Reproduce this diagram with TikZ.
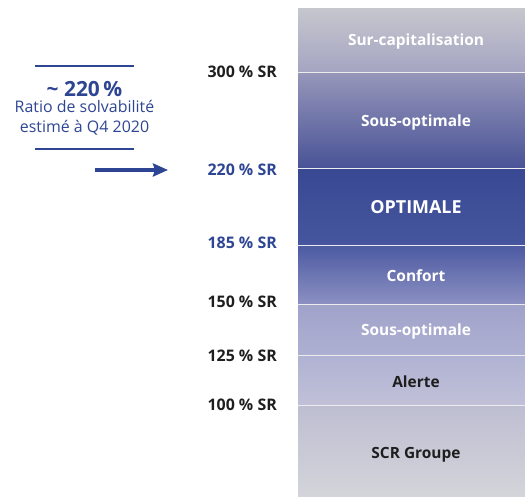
\documentclass[tikz,border=0pt]{standalone}
\usepackage{fontspec}
\setmainfont{Open Sans}
\usetikzlibrary{arrows.meta}
\begin{document}
\begin{tikzpicture}[x=1bp,y=-1bp,
  bandtxt/.style={font=\bfseries\fontsize{15.5}{18}\selectfont, text=white, inner sep=0pt},
  darktxt/.style={bandtxt, text=txtdark},
  lvl/.style={font=\bfseries\fontsize{16}{18}\selectfont, text=txtdark, anchor=east, inner sep=0pt},
  lvlblue/.style={lvl, text=navy},
  divider/.style={draw=white!85!gray, line width=1bp},
  rule/.style={draw=navy, line width=1.8bp}
]
\definecolor{navy}{HTML}{2E4593}
\definecolor{txtdark}{HTML}{1E1E1E}
\useasboundingbox (0,0) rectangle (525,497);
% bands
\shade[top color={rgb,255:red,198;green,198;blue,206}, bottom color={rgb,255:red,164;green,164;blue,194}] (298,9) rectangle (535,73);
\shade[top color={rgb,255:red,150;green,150;blue,186}, bottom color={rgb,255:red,72;green,82;blue,150}] (298,73) rectangle (535,169);
\shade[top color={rgb,255:red,56;green,72;blue,146}, middle color={rgb,255:red,34;green,60;blue,142}, bottom color={rgb,255:red,70;green,86;blue,158}] (298,169) rectangle (535,245);
\shade[top color={rgb,255:red,76;green,90;blue,162}, bottom color={rgb,255:red,140;green,144;blue,194}] (298,245) rectangle (535,304);
\shade[top color={rgb,255:red,160;green,162;blue,202}, bottom color={rgb,255:red,174;green,176;blue,210}] (298,304) rectangle (535,355);
\shade[top color={rgb,255:red,176;green,178;blue,210}, bottom color={rgb,255:red,192;green,192;blue,216}] (298,355) rectangle (535,405);
\shade[top color={rgb,255:red,190;green,190;blue,210}, bottom color={rgb,255:red,212;green,212;blue,218}] (298,405) rectangle (535,497);
% dividers
\foreach \yy in {73,169,245,304,355,405} \draw[divider] (298,\yy) -- (525,\yy);
% band labels
\node[bandtxt] (b1) at (416,41) {Sur-capitalisation};
\node[bandtxt] (b2) at (416,122) {Sous-optimale};
\node[bandtxt, font=\bfseries\fontsize{18}{20}\selectfont] (b3) at (416,207) {OPTIMALE};
\node[bandtxt] (b4) at (416,276) {Confort};
\node[bandtxt] (b5) at (416,331) {Sous-optimale};
\node[darktxt] (b6) at (416,382) {Alerte};
\node[darktxt] (b7) at (416,455) {SCR Groupe};
% level labels
\node[lvl] (l300) at (277,72) {300 \% SR};
\node[lvlblue] (l220) at (277,170) {220 \% SR};
\node[lvlblue] (l185) at (277,243) {185 \% SR};
\node[lvl] (l150) at (277,302) {150 \% SR};
\node[lvl] (l125) at (277,356) {125 \% SR};
\node[lvl] (l100) at (277,405) {100 \% SR};
% left note
\coordinate (r1a) at (35,66); \coordinate (r1b) at (134,66);
\coordinate (r2a) at (35,149); \coordinate (r2b) at (134,149);
\draw[rule] (r1a) -- (r1b);
\draw[rule] (r2a) -- (r2b);
\node[text=navy, font=\bfseries\fontsize{21}{23}\selectfont, inner sep=0pt] (pct) at (84.5,89) {\textasciitilde\ 220\,\%};
\node[text=navy, font=\fontsize{16}{20}\selectfont, inner sep=0pt, align=center] (note) at (84.5,118) {Ratio de solvabilité\\estimé à Q4 2020};
\coordinate (arS) at (95,170);
\coordinate (arE) at (168,170);
\draw[navy, line width=3.2bp, -{Stealth[length=15bp,width=13bp,inset=2bp]}] (arS) -- (arE);
\end{tikzpicture}
\end{document}
